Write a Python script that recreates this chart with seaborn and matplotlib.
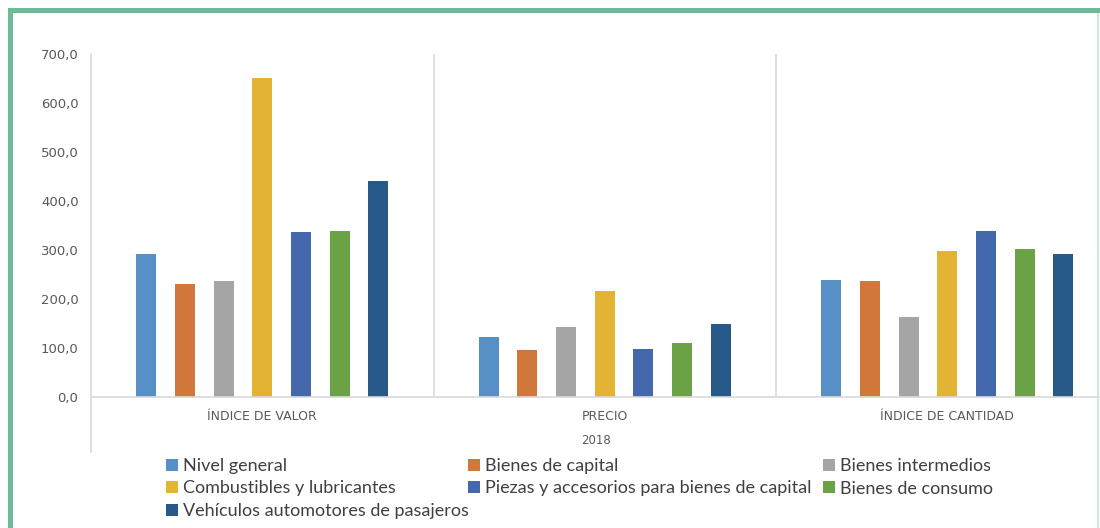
import numpy as np
import pandas as pd
import matplotlib
matplotlib.use("Agg")
import matplotlib.pyplot as plt
from matplotlib.patches import Rectangle
from matplotlib.lines import Line2D
import seaborn as sns

# data
indicadores = ["ÍNDICE DE VALOR", "PRECIO", "ÍNDICE DE CANTIDAD"]
series = [
    "Nivel general",
    "Bienes de capital",
    "Bienes intermedios",
    "Combustibles y lubricantes",
    "Piezas y accesorios para bienes de capital",
    "Bienes de consumo",
    "Vehículos automotores de pasajeros",
]
nivel_general = [292, 122, 238]
bienes_capital = [230, 95, 237]
bienes_intermedios = [237, 143, 163]
combustibles = [651, 217, 298]
piezas = [336, 98, 339]
bienes_consumo = [339, 110, 303]
vehiculos = [441, 149, 292]
y_ticks = [0, 100, 200, 300, 400, 500, 600, 700]
anio = "2018"

colores = ["#5790C6", "#D1773B", "#A5A5A5", "#E3B433",
           "#4369AC", "#6AA245", "#275A88"]

valores = [nivel_general, bienes_capital, bienes_intermedios, combustibles,
           piezas, bienes_consumo, vehiculos]
rows = []
for name, vals in zip(series, valores):
    for ind, v in zip(indicadores, vals):
        rows.append({"indicador": ind, "serie": name, "valor": v})
df = pd.DataFrame(rows)

sns.set_style("white")
plt.rcParams["font.family"] = ["DejaVu Sans"]

fig = plt.figure(figsize=(11, 5.28), dpi=100)

# axes placed in pixel terms; right end runs past the figure edge like the source
W, H = 1100, 528
left, right, top, bottom = 91, 1118.5, 54, 397
ax = fig.add_axes([left / W, 1 - bottom / H, (right - left) / W, (bottom - top) / H])

sns.barplot(data=df, x="indicador", y="valor", hue="serie", order=indicadores,
            hue_order=series, palette=colores, saturation=1, width=0.79, gap=0.48,
            linewidth=0, legend=False, ax=ax)

axis_gray = "#D9D9D9"
text_gray = "#595959"

ax.set_ylim(0, 700)
ax.set_xlim(-0.5, 2.5)
ax.set_yticks(y_ticks)
ax.set_yticklabels([f"{t:.1f}".replace(".", ",") for t in y_ticks],
                   fontsize=9.5, color=text_gray)
ax.set_xticks(range(len(indicadores)))
ax.set_xticklabels(indicadores, fontsize=9, color=text_gray)
ax.tick_params(axis="y", length=5, color=axis_gray, width=1, pad=4)
ax.tick_params(axis="x", length=0, pad=9)
ax.set_xlabel("")
ax.set_ylabel("")
for s in ["top", "right"]:
    ax.spines[s].set_visible(False)
for s in ["left", "bottom"]:
    ax.spines[s].set_color(axis_gray)
    ax.spines[s].set_linewidth(1.2)

# group separators
for xs in [0.5, 1.5]:
    ax.axvline(xs, ymin=0, ymax=1, color=axis_gray, lw=1.2)
# left axis continues below baseline (multi-level category axis)
ax.add_line(Line2D([0, 0], [0, -(452 - 397) / (bottom - top)], transform=ax.transAxes,
                   color=axis_gray, lw=1.2, clip_on=False))

fig.text(596 / W, 1 - 441 / H, anio, ha="center", va="center",
         fontsize=8.5, color=text_gray)

# legend: three columns placed by hand, row-major order as in the source
handles = [Line2D([], [], marker="s", linestyle="none", markersize=8,
                  markerfacecolor=c, markeredgewidth=0) for c in colores]
columnas = [([0, 3, 6], 166), ([1, 4], 468), ([2, 5], 823)]
for idx, xpix in columnas:
    leg = fig.legend([handles[i] for i in idx], [series[i] for i in idx],
                     loc="upper left", bbox_to_anchor=(xpix / W, 1 - 458 / H),
                     frameon=False, handlelength=0.65, handletextpad=0.3,
                     labelspacing=0.36, borderpad=0, borderaxespad=0,
                     labelcolor="#404040",
                     prop={"family": ["Lato", "DejaVu Sans"], "size": 13})

# green frame
verde = "#6CBA98"
fig.add_artist(Rectangle((8 / W, 0), 5 / W, 1 - 8 / H, transform=fig.transFigure,
                         color=verde, lw=0))
fig.add_artist(Rectangle((8 / W, 1 - 13 / H), 1 - 8 / W, 5 / H, transform=fig.transFigure,
                         color=verde, lw=0))
fig.add_artist(Rectangle((1097 / W, 0), 1.5 / W, 1 - 13 / H, transform=fig.transFigure,
                         color="#CDE8DC", lw=0))

fig.savefig("out.png", dpi=100)
